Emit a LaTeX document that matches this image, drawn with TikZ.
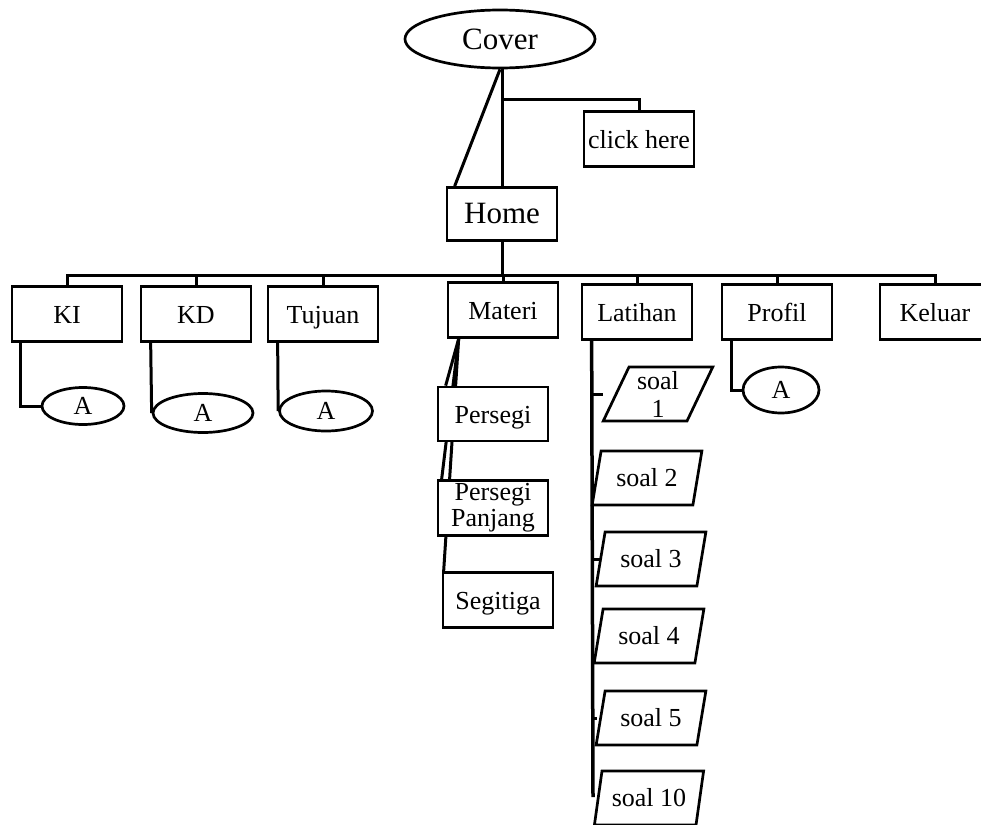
\documentclass[tikz,border=0pt]{standalone}
\usepackage{fontspec}
\setmainfont{Liberation Serif}
\usetikzlibrary{shapes.geometric,backgrounds}

\tikzset{
	box/.style={draw, fill=white, rectangle, minimum width=110pt, minimum height=55pt,
		inner sep=0pt, text height=24pt, text depth=6pt, align=center,
		font=\fontsize{26}{26}\selectfont},
	oval/.style={draw, fill=white, ellipse, inner sep=0pt, font=\fontsize{26}{26}\selectfont},
	soal/.style={draw, fill=white, trapezium, trapezium left angle=77, trapezium right angle=103,
		trapezium stretches=true, minimum width=110pt, minimum height=54pt,
		inner sep=0pt, text height=21pt, text depth=5pt, align=center,
		font=\fontsize{26}{28}\selectfont},
	every on background layer/.append style={line width=3pt}
}

\begin{document}
\begin{tikzpicture}[x=1pt, y=-1pt, line width=2.7pt]
	\useasboundingbox (0,0) rectangle (981,824);

	\node[oval, minimum width=190pt, minimum height=58pt, font=\fontsize{31}{31}\selectfont] (cover) at (500, 39) {Cover};
	\node[box] (click) at (639, 139) {click here};
	\node[box, minimum height=53pt, font=\fontsize{31}{31}\selectfont] (home) at (502, 214) {Home};

	\node[box] (ki) at (67, 314) {KI};
	\node[box] (kd) at (196, 314) {KD};
	\node[box] (tujuan) at (323, 314) {Tujuan};
	\node[box] (materi) at (503, 310) {Materi};
	\node[box] (latihan) at (637, 312) {Latihan};
	\node[box] (profil) at (777, 312) {Profil};
	\node[box] (keluar) at (935, 312) {Keluar};

	\node[oval, minimum width=82pt, minimum height=37pt] (aki) at (83, 406) {A};
	\node[oval, minimum width=100pt, minimum height=39pt] (akd) at (203, 413) {A};
	\node[oval, minimum width=93pt, minimum height=40pt] (atujuan) at (326, 411) {A};
	\node[oval, minimum width=76pt, minimum height=46pt] (aprofil) at (781, 390) {A};

	\node[box, minimum height=54pt] (persegi) at (493, 414) {Persegi};
	\node[box, text height={}, text depth={}] (ppanjang) at (493, 508) {Persegi\\Panjang};
	\node[box] (segitiga) at (498, 600) {Segitiga};

	\node[soal, trapezium left angle=68, trapezium right angle=112, text height={}, text depth={}] (s1) at (658, 394) {soal\\1};
	\node[soal] (s2) at (647, 478) {soal 2};
	\node[soal] (s3) at (651, 559) {soal 3};
	\node[soal] (s4) at (649, 636) {soal 4};
	\node[soal] (s5) at (651, 718) {soal 5};
	\node[soal] (s10) at (649, 798) {soal 10};

	\coordinate (cj) at (502, 100);
	\coordinate (bus) at (502, 275);
	\coordinate (lend) at (593, 797);

	\begin{scope}[on background layer]
		\draw (cover.south -| home) -- (home);
		\draw (cover.south) -- ([xshift=9pt]home.north west);
		\draw (cj) -| (click);
		\draw (home) -- (bus);
		\foreach \n in {ki, kd, tujuan, materi, latihan, profil, keluar}
			\draw (bus) -| (\n);

		\draw ([xshift=10pt]ki.south west) |- (aki);
		\draw ([xshift=11pt]kd.south west) -- (akd.west);
		\draw ([xshift=11pt]tujuan.south west) -- (atujuan.west);
		\draw ([xshift=11pt]profil.south west) |- (aprofil);

		\draw ([xshift=12pt]materi.south west) -- ([xshift=9pt]persegi.north west);
		\draw ([xshift=12pt]materi.south west) -- ([xshift=5pt]ppanjang.north west);
		\draw ([xshift=12pt]materi.south west) -- ([xshift=2pt]segitiga.north west);

		\draw[line width=3.5pt] ([xshift=11pt]latihan.south west) -- (lend);
		\foreach \s/\l in {s1/10, s3/7, s5/4}
			\draw (lend |- \s) -- ++(\l, 0);
	\end{scope}
\end{tikzpicture}
\end{document}
